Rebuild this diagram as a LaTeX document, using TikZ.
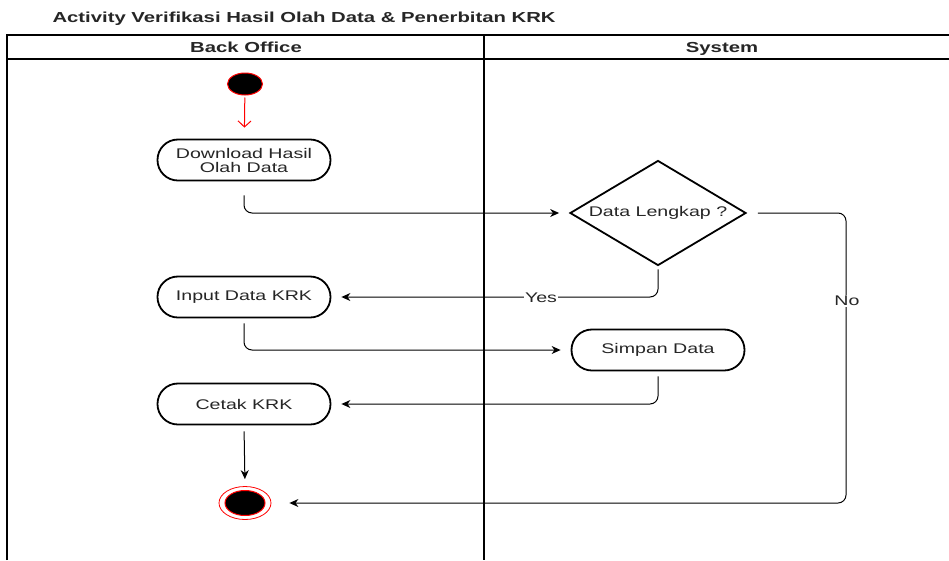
\documentclass[tikz,border=0pt]{standalone}
\usepackage{fontspec}
\setmainfont[FakeStretch=1.4]{Liberation Sans}
\usetikzlibrary{arrows.meta,shapes.geometric}

\begin{document}
\begin{tikzpicture}[x=1pt,y=-1pt,
  txt/.style={font=\fontsize{14}{14}\selectfont, text=black!85},
  head/.style={txt, font=\bfseries\fontsize{14.5}{15}\selectfont, anchor=base},
  lane/.style={line width=1.4pt},
  act/.style={txt, draw, line width=1.8pt, rounded corners=20.4pt,
    minimum width=173pt, minimum height=41pt, inner sep=0pt, align=center},
  flow/.style={line width=1pt, rounded corners=8pt,
    -{Stealth[length=9pt,width=8pt]}},
  lbl/.style={txt, fill=white, inner sep=1pt}]

\useasboundingbox[fill=white] (0,0) rectangle (949,560);

% title
\node[head, anchor=base west] (title) at (49,22)
  {Activity Verifikasi Hasil Olah Data \& Penerbitan KRK};

% swimlane frame
\draw[lane] (7,560) -- (7,35) -- (949,35);
\draw[lane] (7,59) -- (949,59);
\draw[lane] (484,35) -- (484,560);
\node[head] (laneA) at (246,52.5) {Back Office};
\node[head] (laneB) at (722,52.5) {System};

% start and end
\node[ellipse, fill=black, draw=red, line width=1pt, minimum width=35pt,
  minimum height=22pt, inner sep=0pt] (start) at (245,84) {};
\node[ellipse, draw=red, line width=0.8pt, minimum width=52pt,
  minimum height=33pt, inner sep=0pt] (end) at (245,503) {};
\node[ellipse, fill=black, draw=red, line width=1pt, minimum width=40pt,
  minimum height=25pt, inner sep=0pt] (endDot) at (245,503) {};

% activities
\node[act] (dl)  at (244,160) {Download Hasil\\Olah Data};
\node[act] (inp) at (244,297) {Input Data KRK};
\node[act] (cet) at (244,404) {Cetak KRK};
\node[act] (sim) at (658,350) {Simpan Data};

% decision
\node[diamond, draw, line width=1.8pt, minimum width=176pt, minimum height=105pt,
  inner sep=0pt] (dec) at (658,213) {};
\node[txt] (decText) at (dec) {Data Lengkap ?};
\coordinate (noX) at (846,213);

% flows
\draw[red, line width=1pt, shorten <=2pt, shorten >=11pt,
  -{Straight Barb[length=6pt,width=13pt]}] (start) -- (dl);
\draw[flow, shorten <=14pt, shorten >=10pt] (dl.south) |- (dec.west);
\draw[flow, shorten <=3pt, shorten >=10pt] (dec.south) |- (inp.east);
\draw[flow, shorten <=5pt, shorten >=10pt] (inp.south) |- (sim.west);
\draw[flow, shorten <=5pt, shorten >=10pt] (sim.south) |- (cet.east);
\draw[flow, shorten <=6pt, shorten >=7pt] (cet.south) -- (end.north);
\draw[flow, shorten <=11pt, shorten >=18pt] (dec.east) -- (noX) |- (end.east);

% guard labels
\node[lbl] (yes) at (541,298) {Yes};
\node[lbl] (no) at (847,301) {No};
\end{tikzpicture}
\end{document}
